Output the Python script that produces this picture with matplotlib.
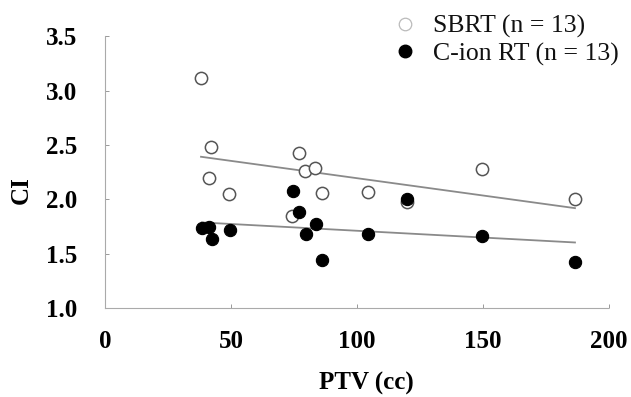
import numpy as np
import matplotlib
matplotlib.use("Agg")
import matplotlib.pyplot as plt
from matplotlib.lines import Line2D

# Data
sbrt_ptv = [38.1, 42.1, 41.3, 49.3, 74.3, 77.0, 79.4, 83.5, 86.0, 104.2, 120.0, 149.7, 186.5]
sbrt_ci = [3.12, 2.48, 2.20, 2.05, 1.85, 2.43, 2.26, 2.29, 2.06, 2.07, 1.98, 2.28, 2.00]
cion_ptv = [38.4, 41.4, 42.3, 49.5, 74.5, 77.1, 79.6, 83.6, 86.1, 104.2, 120.0, 149.7, 186.5]
cion_ci = [1.74, 1.75, 1.635, 1.715, 2.08, 1.88, 1.68, 1.77, 1.44, 1.68, 2.00, 1.66, 1.42]
x_ticks = [0, 50, 100, 150, 200]
y_ticks = [1.0, 1.5, 2.0, 2.5, 3.0, 3.5]
labels = ["SBRT (n = 13)", "C-ion RT (n = 13)"]

plt.rcParams['font.family'] = ['Liberation Serif', 'DejaVu Serif']

fig = plt.figure(figsize=(6.31, 3.97), dpi=100)
ax = fig.add_axes([105/631, 1-308/397, (609-105)/631, (308-36.4)/397])

# trend lines
for xs, ys in [(sbrt_ptv, sbrt_ci), (cion_ptv, cion_ci)]:
    xs = np.array(xs); ys = np.array(ys)
    k, b = np.polyfit(xs, ys, 1)
    xl = np.array([xs.min(), xs.max()])
    ax.plot(xl, k*xl + b, color='#8a8a8a', lw=1.3, zorder=1)

ax.scatter(sbrt_ptv, sbrt_ci, s=78, facecolors='white', edgecolors='#555555', linewidths=1.1, zorder=2)
ax.scatter(cion_ptv, cion_ci, s=78, facecolors='black', edgecolors='black', linewidths=0.8, zorder=3)

ax.set_xlim(0, 200)
ax.set_ylim(1.0, 3.5)
ax.set_xticks(x_ticks)
ax.set_yticks(y_ticks)
ax.set_xticklabels([str(v) for v in x_ticks], fontsize=18, fontweight='bold')
ax.set_yticklabels([f"{v:.1f}" for v in y_ticks], fontsize=18, fontweight='bold')
ax.tick_params(axis='both', direction='in', length=3, color='#999999', width=0.7)
ax.tick_params(axis='y', pad=20)
ax.tick_params(axis='x', pad=16)

for s in ['top', 'right']:
    ax.spines[s].set_visible(False)
for s in ['left', 'bottom']:
    ax.spines[s].set_color('#aaaaaa')
    ax.spines[s].set_linewidth(0.8)
    ax.spines[s].set_linestyle((0, (1, 1)))

fig.text(366/631, 1-383/397, "PTV (cc)", fontsize=18, fontweight='bold', ha='center', va='center')
fig.text(21/631, 1-190/397, "CI", fontsize=18, fontweight='bold', ha='center', va='center', rotation=90)

handles = [
    Line2D([], [], linestyle='none', marker='o', markersize=9, markerfacecolor='white',
           markeredgecolor='#bbbbbb', markeredgewidth=0.9),
    Line2D([], [], linestyle='none', marker='o', markersize=9, markerfacecolor='black',
           markeredgecolor='black'),
]
leg = fig.legend(handles, labels, loc='upper left', bbox_to_anchor=(392/631, 1-15/397),
                 frameon=False, prop={'family': 'Liberation Serif', 'size': 18.5},
                 handlelength=1.0, handletextpad=0.6, labelspacing=0.15, borderpad=0, borderaxespad=0)
for t in leg.get_texts():
    t.set_color('#111111')

fig.savefig("out.png", dpi=100)
